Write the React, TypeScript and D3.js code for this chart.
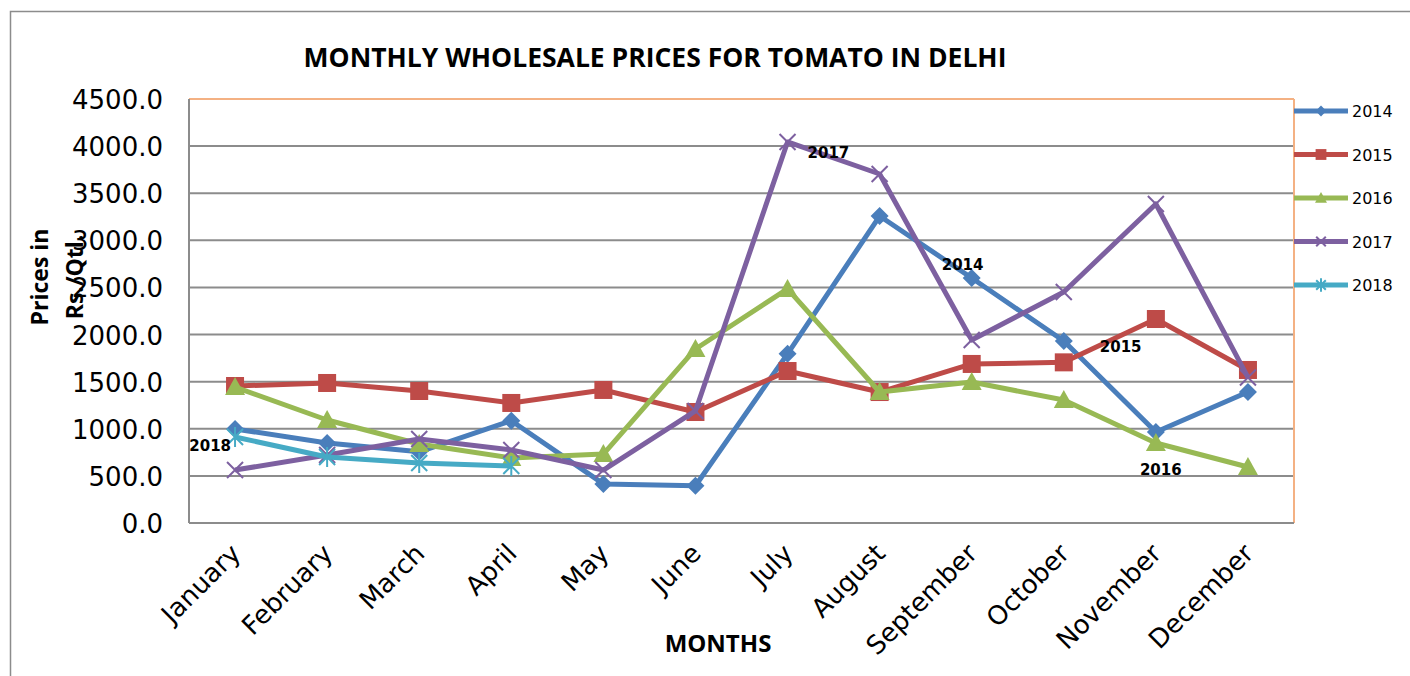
import React from "react";
import * as d3 from "d3";

const months = ["January","February","March","April","May","June","July","August","September","October","November","December"];
const s2014 = [998, 850, 755, 1085, 415, 395, 1795, 3258, 2600, 1932, 966, 1390];
const s2015 = [1454, 1486, 1401, 1274, 1412, 1178, 1613, 1390, 1688, 1705, 2165, 1624];
const s2016 = [1443, 1093, 838, 690, 732, 1847, 2484, 1390, 1496, 1305, 849, 594];
const s2017 = [562, 722, 891, 775, 562, 1189, 4044, 3704, 1942, 2452, 3386, 1545];
const s2018 = [913, 700, 637, 605];
const yTicks = [0, 500, 1000, 1500, 2000, 2500, 3000, 3500, 4000, 4500];

const series = [
  { name: "2014", values: s2014, color: "#4A7EBB", marker: "diamond" },
  { name: "2015", values: s2015, color: "#BE4B48", marker: "square" },
  { name: "2016", values: s2016, color: "#98B954", marker: "triangle" },
  { name: "2017", values: s2017, color: "#7D60A0", marker: "x" },
  { name: "2018", values: s2018, color: "#46AAC5", marker: "star" },
];

const annotations = [
  { text: "2017", m: 6, v: 4044, dx: 20, dy: 16, anchor: "start" },
  { text: "2014", m: 8, v: 2600, dx: -30, dy: -8, anchor: "start" },
  { text: "2015", m: 9, v: 1705, dx: 36, dy: -10, anchor: "start" },
  { text: "2016", m: 10, v: 849, dx: -16, dy: 32, anchor: "start" },
  { text: "2018", m: 0, v: 913, dx: -4, dy: 14, anchor: "end" },
];

const L = 189, T = 99, R = 1294, B = 523;
const FONT = "'DejaVu Sans', Verdana, sans-serif";
const BOLD = "'Open Sans', 'DejaVu Sans', sans-serif";

function Marker({ type, x, y, color, k = 1 }: { type: string; x: number; y: number; color: string; k?: number }) {
  if (type === "diamond") {
    const s = 9 * k;
    return <path d={`M${x},${y - s}L${x + s},${y}L${x},${y + s}L${x - s},${y}Z`} fill={color} />;
  }
  if (type === "square") {
    const s = 9 * k;
    return <rect x={x - s} y={y - s} width={2 * s} height={2 * s} fill={color} />;
  }
  if (type === "triangle") {
    const s = 10 * k;
    return <path d={`M${x},${y - s}L${x + s},${y + s * 0.8}L${x - s},${y + s * 0.8}Z`} fill={color} />;
  }
  if (type === "x") {
    const s = 8 * k;
    return <path d={`M${x - s},${y - s}L${x + s},${y + s}M${x + s},${y - s}L${x - s},${y + s}`} stroke={color} strokeWidth={2} />;
  }
  const s = 8 * k;
  return <path d={`M${x - s},${y - s}L${x + s},${y + s}M${x + s},${y - s}L${x - s},${y + s}M${x},${y - s - 2}L${x},${y + s + 2}`} stroke={color} strokeWidth={2} />;
}

export default function App() {
  const x = d3.scaleBand<string>().domain(months).range([L, R]);
  const y = d3.scaleLinear().domain([0, 4500]).range([B, T]);
  const cx = (i: number) => (x(months[i]) as number) + x.bandwidth() / 2;
  const line = d3.line<number>().x((_, i) => cx(i)).y((d) => y(d));
  const legendY = d3.scalePoint<string>().domain(series.map((s) => s.name)).range([111, 285]);

  return (
    <svg width={1410} height={676} style={{ position: "absolute", left: 0, top: 0, background: "#fff" }}>
      <rect x={10.5} y={11.5} width={1420} height={700} fill="#fff" stroke="#8c8c8c" strokeWidth={1.5} />
      <text x={655} y={67} textAnchor="middle" fontFamily={BOLD} fontWeight="bold" fontSize={26.5}>
        MONTHLY WHOLESALE PRICES FOR TOMATO IN DELHI
      </text>
      {yTicks.map((t) => (
        <g key={t}>
          {t > 0 && t < 4500 && <line x1={L} x2={R} y1={y(t)} y2={y(t)} stroke="#8c8c8c" strokeWidth={2} />}
          <text x={163} y={y(t) + 10} textAnchor="end" fontFamily={FONT} fontSize={26}>
            {t.toFixed(1)}
          </text>
        </g>
      ))}
      <line x1={L} x2={R} y1={T} y2={T} stroke="#F4B183" strokeWidth={2} />
      <line x1={R} x2={R} y1={T} y2={B} stroke="#F4B183" strokeWidth={2} />
      <line x1={L} x2={L} y1={T} y2={B} stroke="#8c8c8c" strokeWidth={2} />
      <line x1={L} x2={R} y1={B} y2={B} stroke="#8c8c8c" strokeWidth={2} />
      {months.map((m, i) => (
        <text key={m} transform={`translate(${cx(i) + 7},${555}) rotate(-45)`} textAnchor="end" fontFamily={FONT} fontSize={26}>
          {m}
        </text>
      ))}
      {series.map((s) => (
        <g key={s.name}>
          <path d={line(s.values) as string} fill="none" stroke={s.color} strokeWidth={5} strokeLinejoin="round" />
          {s.values.map((v, i) => (
            <Marker key={i} type={s.marker} x={cx(i)} y={y(v)} color={s.color} />
          ))}
        </g>
      ))}
      {annotations.map((a) => (
        <text key={a.text} x={cx(a.m) + a.dx} y={y(a.v) + a.dy} textAnchor={a.anchor} fontFamily={FONT} fontWeight="bold" fontSize={15}>
          {a.text}
        </text>
      ))}
      {series.map((s) => {
        const ly = legendY(s.name) as number;
        return (
          <g key={s.name}>
            <line x1={1294} x2={1348} y1={ly} y2={ly} stroke={s.color} strokeWidth={5} />
            <Marker type={s.marker} x={1321} y={ly} color={s.color} k={0.6} />
            <text x={1352} y={ly + 6} fontFamily={FONT} fontSize={16}>{s.name}</text>
          </g>
        );
      })}
      <text transform="translate(48,277) rotate(-90)" textAnchor="middle" fontFamily={BOLD} fontWeight="bold" fontSize={23}>
        Prices in
      </text>
      <text transform="translate(83,277) rotate(-90)" textAnchor="middle" fontFamily={BOLD} fontWeight="bold" fontSize={23}>
        Rs./Qtl.
      </text>
      <text x={718} y={652} textAnchor="middle" fontFamily={BOLD} fontWeight="bold" fontSize={24}>
        MONTHS
      </text>
    </svg>
  );
}
